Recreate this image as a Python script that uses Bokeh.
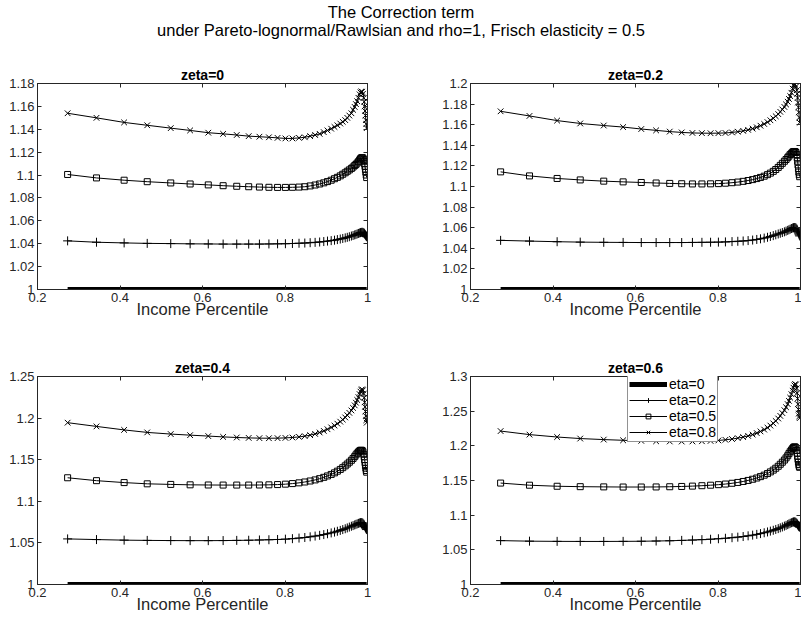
from bokeh.plotting import figure
from bokeh.layouts import column, row
from bokeh.models import (Range1d, FixedTicker, LinearAxis, Legend, LegendItem, Label)
from bokeh.embed import file_html
from bokeh.resources import INLINE

# ---------------- data ----------------
percentile = [0.273, 0.343, 0.410, 0.466, 0.523, 0.570, 0.614, 0.650, 0.683, 0.712,
              0.738, 0.761, 0.782, 0.801, 0.818, 0.834, 0.848, 0.861, 0.873, 0.884,
              0.894, 0.903, 0.912, 0.920, 0.927, 0.934, 0.940, 0.946, 0.951, 0.956,
              0.961, 0.965, 0.969, 0.972, 0.975, 0.978, 0.981, 0.983, 0.985, 0.987,
              0.989, 0.991, 0.992, 0.993, 0.994, 0.995, 0.996, 0.997, 0.998]

eta0 = [1.0] * len(percentile)   # eta=0: correction term identically 1

# zeta = 0
z0_eta02 = [1.0425, 1.0413, 1.0407, 1.0403, 1.0401, 1.0399, 1.0398, 1.0397, 1.0397, 1.0397,
            1.0397, 1.0398, 1.0399, 1.0400, 1.0402, 1.0404, 1.0406, 1.0409, 1.0412, 1.0415,
            1.0419, 1.0423, 1.0427, 1.0431, 1.0436, 1.0441, 1.0446, 1.0451, 1.0456, 1.0461,
            1.0467, 1.0472, 1.0477, 1.0481, 1.0486, 1.0490, 1.0494, 1.0497, 1.0499, 1.0500,
            1.0499, 1.0495, 1.0491, 1.0486, 1.0481, 1.0476, 1.0471, 1.0466, 1.0461]
z0_eta05 = [1.1005, 1.0975, 1.0955, 1.0942, 1.0931, 1.0922, 1.0914, 1.0907, 1.0902, 1.0898,
            1.0895, 1.0893, 1.0892, 1.0892, 1.0893, 1.0895, 1.0898, 1.0905, 1.0913, 1.0922,
            1.0932, 1.0943, 1.0955, 1.0968, 1.0980, 1.0993, 1.1007, 1.1020, 1.1033, 1.1045,
            1.1058, 1.1070, 1.1083, 1.1093, 1.1105, 1.1117, 1.1132, 1.1142, 1.1150, 1.1152,
            1.1148, 1.1135, 1.1120, 1.1098, 1.1075, 1.1050, 1.1025, 1.1000, 1.0978]
z0_eta08 = [1.1540, 1.1500, 1.1460, 1.1435, 1.1410, 1.1390, 1.1370, 1.1360, 1.1350, 1.1340,
            1.1335, 1.1330, 1.1325, 1.1320, 1.1320, 1.1325, 1.1330, 1.1340, 1.1350, 1.1360,
            1.1375, 1.1390, 1.1405, 1.1420, 1.1435, 1.1450, 1.1465, 1.1480, 1.1500, 1.1520,
            1.1540, 1.1570, 1.1595, 1.1620, 1.1645, 1.1675, 1.1705, 1.1722, 1.1730, 1.1728,
            1.1710, 1.1675, 1.1640, 1.1600, 1.1560, 1.1520, 1.1480, 1.1445, 1.1410]

# zeta = 0.2
z2_eta02 = [1.0477, 1.0470, 1.0464, 1.0460, 1.0458, 1.0457, 1.0456, 1.0456, 1.0456, 1.0456,
            1.0457, 1.0458, 1.0459, 1.0460, 1.0462, 1.0465, 1.0468, 1.0471, 1.0475, 1.0480,
            1.0486, 1.0492, 1.0499, 1.0507, 1.0515, 1.0523, 1.0531, 1.0539, 1.0546, 1.0553,
            1.0560, 1.0567, 1.0574, 1.0580, 1.0586, 1.0592, 1.0597, 1.0600, 1.0602, 1.0601,
            1.0597, 1.0588, 1.0580, 1.0570, 1.0560, 1.0550, 1.0540, 1.0530, 1.0520]
z2_eta05 = [1.1142, 1.1103, 1.1078, 1.1064, 1.1052, 1.1045, 1.1039, 1.1034, 1.1030, 1.1027,
            1.1025, 1.1025, 1.1026, 1.1028, 1.1032, 1.1037, 1.1043, 1.1050, 1.1058, 1.1067,
            1.1077, 1.1088, 1.1100, 1.1115, 1.1130, 1.1147, 1.1165, 1.1185, 1.1205, 1.1225,
            1.1245, 1.1262, 1.1280, 1.1295, 1.1310, 1.1322, 1.1333, 1.1338, 1.1340, 1.1338,
            1.1330, 1.1310, 1.1280, 1.1245, 1.1210, 1.1175, 1.1140, 1.1115, 1.1095]
z2_eta08 = [1.1730, 1.1685, 1.1640, 1.1612, 1.1592, 1.1577, 1.1558, 1.1545, 1.1533, 1.1525,
            1.1520, 1.1518, 1.1517, 1.1518, 1.1520, 1.1525, 1.1532, 1.1540, 1.1550, 1.1562,
            1.1575, 1.1590, 1.1607, 1.1625, 1.1643, 1.1662, 1.1682, 1.1703, 1.1725, 1.1748,
            1.1772, 1.1797, 1.1823, 1.1850, 1.1878, 1.1910, 1.1950, 1.1980, 1.1995, 1.1990,
            1.1970, 1.1935, 1.1900, 1.1860, 1.1815, 1.1770, 1.1720, 1.1670, 1.1620]

# zeta = 0.4
z4_eta02 = [1.0548, 1.0540, 1.0533, 1.0530, 1.0528, 1.0527, 1.0527, 1.0528, 1.0530, 1.0532,
            1.0535, 1.0538, 1.0541, 1.0545, 1.0551, 1.0558, 1.0565, 1.0573, 1.0582, 1.0591,
            1.0600, 1.0610, 1.0620, 1.0630, 1.0640, 1.0650, 1.0660, 1.0670, 1.0680, 1.0690,
            1.0700, 1.0708, 1.0716, 1.0723, 1.0729, 1.0735, 1.0740, 1.0743, 1.0744, 1.0742,
            1.0736, 1.0725, 1.0715, 1.0705, 1.0695, 1.0685, 1.0676, 1.0668, 1.0660]
z4_eta05 = [1.1283, 1.1248, 1.1225, 1.1210, 1.1203, 1.1198, 1.1196, 1.1195, 1.1195, 1.1195,
            1.1196, 1.1198, 1.1201, 1.1206, 1.1213, 1.1222, 1.1232, 1.1244, 1.1257, 1.1272,
            1.1288, 1.1305, 1.1323, 1.1342, 1.1362, 1.1383, 1.1404, 1.1426, 1.1448, 1.1470,
            1.1493, 1.1515, 1.1537, 1.1558, 1.1577, 1.1593, 1.1606, 1.1612, 1.1614, 1.1610,
            1.1595, 1.1565, 1.1535, 1.1500, 1.1465, 1.1430, 1.1398, 1.1370, 1.1350]
z4_eta08 = [1.1945, 1.1900, 1.1858, 1.1828, 1.1808, 1.1795, 1.1784, 1.1774, 1.1767, 1.1762,
            1.1759, 1.1758, 1.1759, 1.1762, 1.1767, 1.1774, 1.1783, 1.1795, 1.1810, 1.1827,
            1.1846, 1.1866, 1.1888, 1.1910, 1.1933, 1.1957, 1.1982, 1.2008, 1.2035, 1.2063,
            1.2092, 1.2122, 1.2153, 1.2185, 1.2218, 1.2252, 1.2288, 1.2318, 1.2338, 1.2345,
            1.2335, 1.2295, 1.2245, 1.2190, 1.2135, 1.2080, 1.2025, 1.1975, 1.1945]

# zeta = 0.6
z6_eta02 = [1.0633, 1.0625, 1.0622, 1.0621, 1.0621, 1.0622, 1.0624, 1.0627, 1.0631, 1.0636,
            1.0641, 1.0647, 1.0653, 1.0660, 1.0667, 1.0675, 1.0683, 1.0692, 1.0702, 1.0712,
            1.0723, 1.0734, 1.0746, 1.0758, 1.0770, 1.0782, 1.0794, 1.0806, 1.0818, 1.0830,
            1.0842, 1.0853, 1.0864, 1.0874, 1.0883, 1.0891, 1.0898, 1.0902, 1.0904, 1.0902,
            1.0896, 1.0884, 1.0874, 1.0864, 1.0854, 1.0845, 1.0838, 1.0832, 1.0828]
z6_eta05 = [1.1463, 1.1432, 1.1417, 1.1411, 1.1408, 1.1406, 1.1406, 1.1407, 1.1410, 1.1414,
            1.1419, 1.1425, 1.1432, 1.1440, 1.1449, 1.1460, 1.1472, 1.1486, 1.1501, 1.1518,
            1.1536, 1.1556, 1.1577, 1.1600, 1.1624, 1.1650, 1.1677, 1.1705, 1.1734, 1.1764,
            1.1795, 1.1826, 1.1857, 1.1887, 1.1915, 1.1940, 1.1962, 1.1977, 1.1985, 1.1983,
            1.1970, 1.1935, 1.1895, 1.1850, 1.1805, 1.1765, 1.1730, 1.1705, 1.1690]
z6_eta08 = [1.2213, 1.2162, 1.2127, 1.2105, 1.2090, 1.2080, 1.2072, 1.2066, 1.2063, 1.2062,
            1.2063, 1.2066, 1.2071, 1.2078, 1.2087, 1.2098, 1.2111, 1.2126, 1.2143, 1.2162,
            1.2184, 1.2208, 1.2234, 1.2262, 1.2292, 1.2324, 1.2358, 1.2394, 1.2432, 1.2472,
            1.2514, 1.2557, 1.2602, 1.2648, 1.2695, 1.2745, 1.2795, 1.2838, 1.2872, 1.2890,
            1.2885, 1.2830, 1.2760, 1.2680, 1.2600, 1.2525, 1.2465, 1.2425, 1.2400]

panel_titles = ["zeta=0", "zeta=0.2", "zeta=0.4", "zeta=0.6"]
series_labels = ["eta=0", "eta=0.2", "eta=0.5", "eta=0.8"]
x_ticks = [0.2, 0.4, 0.6, 0.8, 1.0]
x_tick_labels = ["0.2", "0.4", "0.6", "0.8", "1"]
y_ticks_a = [1.0, 1.02, 1.04, 1.06, 1.08, 1.1, 1.12, 1.14, 1.16, 1.18, 1.2]
y_tick_labels_a = ["1", "1.02", "1.04", "1.06", "1.08", "1.1", "1.12", "1.14", "1.16", "1.18", "1.2"]
y_ticks_b = [1.0, 1.05, 1.1, 1.15, 1.2, 1.25, 1.3]
y_tick_labels_b = ["1", "1.05", "1.1", "1.15", "1.2", "1.25", "1.3"]
y_max = [1.18, 1.2, 1.25, 1.3]
x_label = "Income Percentile"
main_title = ["The Correction term",
              "under Pareto-lognormal/Rawlsian and rho=1, Frisch elasticity = 0.5"]

for s in [z0_eta02, z0_eta05, z0_eta08, z2_eta02, z2_eta05, z2_eta08,
          z4_eta02, z4_eta05, z4_eta08, z6_eta02, z6_eta05, z6_eta08]:
    assert len(s) == len(percentile)

# ---------------- styling ----------------
FONT = "Liberation Sans"
AX = "#262626"


def style_axis(ax, show_labels):
    ax.axis_line_color = AX
    ax.major_tick_line_color = AX
    ax.minor_tick_line_color = None
    ax.major_tick_in = 4
    ax.major_tick_out = 0
    ax.major_label_text_font = FONT
    if show_labels:
        ax.major_label_text_color = AX
        ax.major_label_text_font_size = "13px"
        ax.major_label_standoff = 3
    else:
        # tick marks only (box axis); labels are not drawn
        ax.major_label_text_color = None
        ax.major_label_text_font_size = "1px"
        ax.major_label_standoff = 0


def make_panel(idx, series, width, height, bl, br, bt, bb, legend=False):
    ymax = y_max[idx]
    if idx < 2:
        yt = [t for t in y_ticks_a if t <= ymax + 1e-9]
        ytl = y_tick_labels_a[:len(yt)]
    else:
        yt = [t for t in y_ticks_b if t <= ymax + 1e-9]
        ytl = y_tick_labels_b[:len(yt)]
    p = figure(width=width, height=height, x_range=Range1d(0.2, 1.0),
               y_range=Range1d(1.0, ymax), output_backend="svg",
               toolbar_location=None, min_border_left=bl, min_border_right=br,
               min_border_top=bt, min_border_bottom=bb)
    p.title.text = panel_titles[idx]
    p.title.align = "center"
    p.title.text_font = FONT
    p.title.text_font_size = "14px"
    p.title.text_font_style = "bold"
    p.title.text_color = "black"
    p.title.standoff = 2
    p.grid.visible = False
    p.outline_line_color = AX
    p.background_fill_color = "white"
    p.border_fill_color = "white"

    xover = {t: l for t, l in zip(x_ticks, x_tick_labels)}
    yover = {t: l for t, l in zip(yt, ytl)}

    p.xaxis.ticker = FixedTicker(ticks=x_ticks)
    p.xaxis.major_label_overrides = xover
    p.xaxis.axis_label = x_label
    p.xaxis.axis_label_text_font = FONT
    p.xaxis.axis_label_text_font_size = "16.5px"
    p.xaxis.axis_label_text_font_style = "normal"
    p.xaxis.axis_label_text_color = AX
    p.xaxis.axis_label_standoff = -5
    p.yaxis.ticker = FixedTicker(ticks=yt)
    p.yaxis.major_label_overrides = yover
    style_axis(p.xaxis[0], True)
    style_axis(p.yaxis[0], True)

    top = LinearAxis(ticker=FixedTicker(ticks=x_ticks))
    right = LinearAxis(ticker=FixedTicker(ticks=yt))
    style_axis(top, False)
    style_axis(right, False)
    p.add_layout(top, "above")
    p.add_layout(right, "right")

    e2, e5, e8 = series
    r0 = p.line(percentile, eta0, line_color="black", line_width=5)
    items = [LegendItem(label=series_labels[0], renderers=[r0])]
    for ys, marker, size, lab in [(e2, "cross", 9, series_labels[1]),
                                  (e5, "square", 6, series_labels[2]),
                                  (e8, "x", 8, series_labels[3])]:
        rl = p.line(percentile, ys, line_color="black", line_width=1)
        rs = p.scatter(percentile, ys, marker=marker, size=size, line_color="black",
                       fill_color=None, line_width=1)
        items.append(LegendItem(label=lab, renderers=[rl, rs]))

    if legend:
        lg = Legend(items=items, location=(157, 142))
        lg.margin = 0
        lg.padding = 1
        lg.spacing = 0
        lg.label_text_font = FONT
        lg.label_text_font_size = "14px"
        lg.label_text_color = "black"
        lg.label_height = 12
        lg.label_standoff = 2
        lg.glyph_width = 38
        lg.glyph_height = 12
        lg.border_line_color = AX
        lg.border_line_width = 1
        lg.background_fill_color = "white"
        lg.background_fill_alpha = 1.0
        p.add_layout(lg, "center")
    return p


# header with the overall title
hdr = figure(width=801, height=45, x_range=Range1d(0, 1), y_range=Range1d(0, 45),
             output_backend="svg", toolbar_location=None, min_border=0,
             x_axis_type=None, y_axis_type=None)
hdr.grid.visible = False
hdr.outline_line_color = None
hdr.add_layout(Label(x=0.5, y=34, text=main_title[0], text_align="center",
                     text_baseline="alphabetic", text_font=FONT,
                     text_font_size="16.5px", text_color="black"))
hdr.add_layout(Label(x=0.5, y=16, text=main_title[1], text_align="center",
                     text_baseline="alphabetic", text_font=FONT,
                     text_font_size="16.5px", text_color="black"))

p1 = make_panel(0, (z0_eta02, z0_eta05, z0_eta08), 400, 285, 37, 33, 38, 41)
p2 = make_panel(1, (z2_eta02, z2_eta05, z2_eta08), 401, 285, 70, 1, 38, 41)
p3 = make_panel(2, (z4_eta02, z4_eta05, z4_eta08), 400, 292, 37, 33, 46, 38)
p4 = make_panel(3, (z6_eta02, z6_eta05, z6_eta08), 401, 292, 70, 1, 46, 38, legend=True)

layout = column(hdr, row(p1, p2), row(p3, p4))

open("out.html", "w").write(file_html(layout, INLINE))
